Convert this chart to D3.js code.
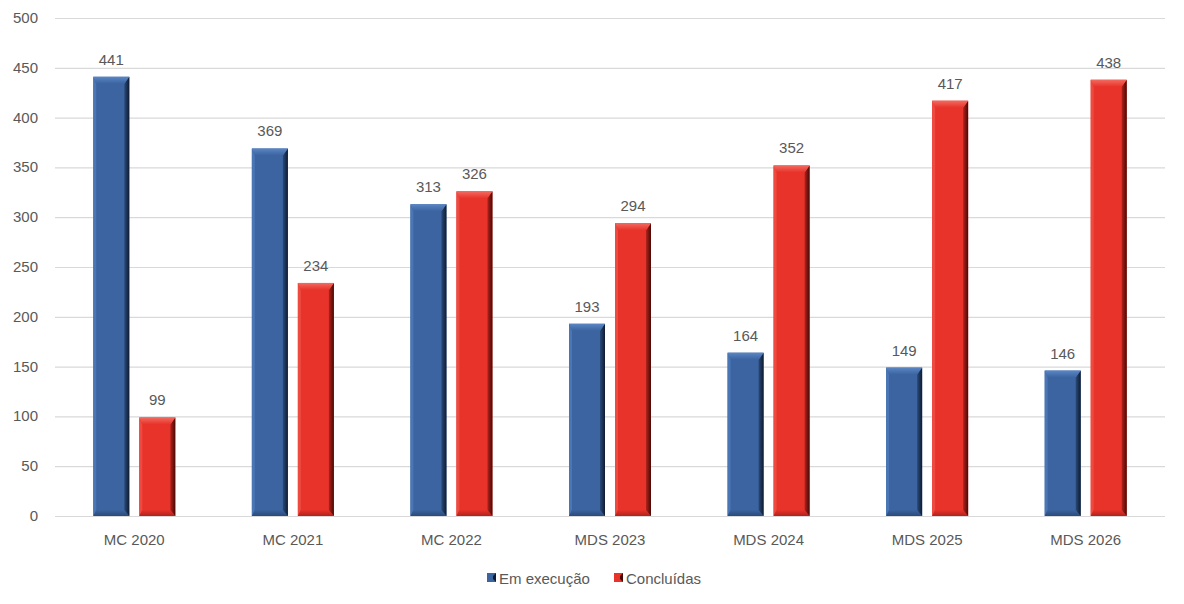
<!DOCTYPE html>
<html><head><meta charset="utf-8">
<script src="https://cdn.jsdelivr.net/npm/d3@7"></script>
<style>body{margin:0;background:#fff}svg{display:block}text{font-family:"Liberation Sans",Arial,sans-serif;fill:#595959}</style>
</head><body>
<svg id="c" width="1184" height="604"></svg>
<script>
const categories=["MC 2020","MC 2021","MC 2022","MDS 2023","MDS 2024","MDS 2025","MDS 2026"];
const emExecucao=[441,369,313,193,164,149,146];
const concluidas=[99,234,326,294,352,417,438];
const seriesNames=["Em execução","Concluídas"];
const yTicks=[0,50,100,150,200,250,300,350,400,450,500];

const svg=d3.select("#c");
const L=55,R=1165,T=18,B=516;
const x=d3.scaleBand().domain(categories).range([L,R]).paddingInner(0).paddingOuter(0);
const y=d3.scaleLinear().domain([0,500]).range([B,T]);
const bw=36,gap=10;
const colors=[{id:"b",base:"#3B64A0",light:"#4A76B5",top:"#5A86C4",dark:"#2A4A7A",darker:"#0E1B30"},
              {id:"r",base:"#E8332A",light:"#EE4A40",top:"#F26A60",dark:"#B0231C",darker:"#4A0805"}];

const defs=svg.append("defs");
colors.forEach(c=>{
  let g=defs.append("linearGradient").attr("id","top"+c.id).attr("x1",0).attr("y1",0).attr("x2",0).attr("y2",1);
  g.append("stop").attr("offset",0).attr("stop-color",c.top);
  g.append("stop").attr("offset",1).attr("stop-color",c.base);
  g=defs.append("linearGradient").attr("id","rt"+c.id).attr("x1",0).attr("y1",0).attr("x2",1).attr("y2",0);
  g.append("stop").attr("offset",0).attr("stop-color",c.dark);
  g.append("stop").attr("offset",1).attr("stop-color",c.darker);
  g=defs.append("linearGradient").attr("id","bt"+c.id).attr("x1",0).attr("y1",0).attr("x2",0).attr("y2",1);
  g.append("stop").attr("offset",0).attr("stop-color",c.base);
  g.append("stop").attr("offset",1).attr("stop-color",c.dark);
});

// grid
svg.append("g").selectAll("line").data(yTicks).join("line")
 .attr("x1",L).attr("x2",R).attr("y1",d=>y(d)+0.5).attr("y2",d=>y(d)+0.5)
 .attr("stroke","#D9D9D9").attr("stroke-width",1.2);
// y labels
svg.append("g").selectAll("text").data(yTicks).join("text")
 .attr("x",38).attr("y",d=>y(d)+5).attr("text-anchor","end").attr("font-size",15).text(d=>d);
// x labels
svg.append("g").selectAll("text").data(categories).join("text")
 .attr("x",d=>x(d)+x.bandwidth()/2).attr("y",545).attr("text-anchor","middle").attr("font-size",15).text(d=>d);

function bevelBar(g,x0,y0,w,h,c){
  const e=Math.min(7,h/2), s=5, eb=Math.min(6,h/2);
  g.append("rect").attr("x",x0).attr("y",y0).attr("width",w).attr("height",h).attr("fill",c.base);
  // left
  g.append("polygon").attr("points",[[x0,y0],[x0+3,y0+e],[x0+3,y0+h-eb],[x0,y0+h]].join(" ")).attr("fill",c.light);
  // bottom
  g.append("polygon").attr("points",[[x0,y0+h],[x0+w,y0+h],[x0+w-s,y0+h-eb],[x0+3,y0+h-eb]].join(" ")).attr("fill","url(#bt"+c.id+")");
  // right
  g.append("polygon").attr("points",[[x0+w,y0],[x0+w,y0+h],[x0+w-s,y0+h-eb],[x0+w-s,y0+e]].join(" ")).attr("fill","url(#rt"+c.id+")");
  // top bevel
  g.append("polygon").attr("points",[[x0,y0],[x0+w,y0],[x0+w-s,y0+e],[x0+3,y0+e]].join(" ")).attr("fill","url(#top"+c.id+")");
}

const series=[emExecucao,concluidas];
series.forEach((vals,si)=>{
  const g=svg.append("g");
  vals.forEach((v,i)=>{
    const cx=x(categories[i])+x.bandwidth()/2;
    const x0= si===0? cx-gap/2-bw : cx+gap/2;
    bevelBar(g,x0,y(v),bw,y(0)-y(v),colors[si]);
    g.append("text").attr("x",x0+bw/2).attr("y",y(v)-12).attr("text-anchor","middle").attr("font-size",15).attr("fill","#404040").text(v);
  });
});

// legend
const lg=svg.append("g");
const items=[{x:487,n:seriesNames[0],c:colors[0]},{x:614,n:seriesNames[1],c:colors[1]}];
items.forEach(it=>{
  const gg=lg.append("g");
  gg.append("rect").attr("x",it.x).attr("y",573).attr("width",9).attr("height",9).attr("fill",it.c.base);
  gg.append("polygon").attr("points",[[it.x+9,573],[it.x+9,582],[it.x+6,579],[it.x+6,576]].join(" ")).attr("fill",it.c.darker);
  gg.append("text").attr("x",it.x+12).attr("y",584).attr("font-size",15).text(it.n);
});
</script>
</body></html>
